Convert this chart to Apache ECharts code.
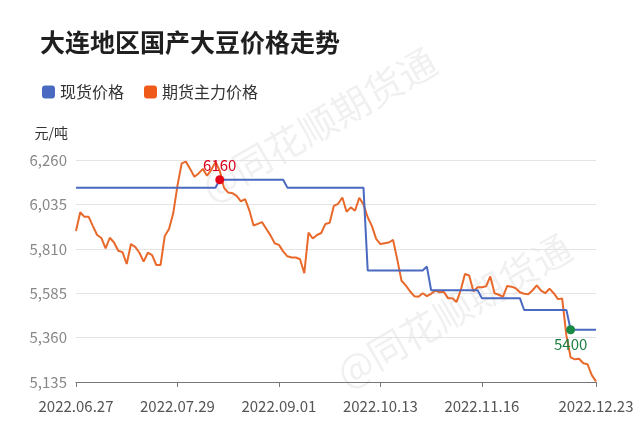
<!DOCTYPE html>
<html>
<head>
<meta charset="utf-8">
<script src="https://cdn.jsdelivr.net/npm/echarts@6/dist/echarts.min.js"></script>
<style>
html,body{margin:0;padding:0;background:#fff;}
#chart{width:640px;height:435px;}
</style>
</head>
<body>
<div id="chart"></div>
<script>
var dates = [
'2022.06.27','2022.06.28','2022.06.29','2022.06.30',
'2022.07.01','2022.07.04','2022.07.05','2022.07.06','2022.07.07','2022.07.08',
'2022.07.11','2022.07.12','2022.07.13','2022.07.14','2022.07.15',
'2022.07.18','2022.07.19','2022.07.20','2022.07.21','2022.07.22',
'2022.07.25','2022.07.26','2022.07.27','2022.07.28','2022.07.29',
'2022.08.01','2022.08.02','2022.08.03','2022.08.04','2022.08.05',
'2022.08.08','2022.08.09','2022.08.10','2022.08.11','2022.08.12',
'2022.08.15','2022.08.16','2022.08.17','2022.08.18','2022.08.19',
'2022.08.22','2022.08.23','2022.08.24','2022.08.25','2022.08.26',
'2022.08.29','2022.08.30','2022.08.31','2022.09.01','2022.09.02',
'2022.09.05','2022.09.06','2022.09.07','2022.09.08','2022.09.09',
'2022.09.13','2022.09.14','2022.09.15','2022.09.16',
'2022.09.19','2022.09.20','2022.09.21','2022.09.22','2022.09.23',
'2022.09.26','2022.09.27','2022.09.28','2022.09.29','2022.09.30',
'2022.10.10','2022.10.11','2022.10.12','2022.10.13','2022.10.14',
'2022.10.17','2022.10.18','2022.10.19','2022.10.20','2022.10.21',
'2022.10.24','2022.10.25','2022.10.26','2022.10.27','2022.10.28',
'2022.10.31','2022.11.01','2022.11.02','2022.11.03','2022.11.04',
'2022.11.07','2022.11.08','2022.11.09','2022.11.10','2022.11.11',
'2022.11.14','2022.11.15','2022.11.16','2022.11.17','2022.11.18',
'2022.11.21','2022.11.22','2022.11.23','2022.11.24','2022.11.25',
'2022.11.28','2022.11.29','2022.11.30',
'2022.12.01','2022.12.02',
'2022.12.05','2022.12.06','2022.12.07','2022.12.08','2022.12.09',
'2022.12.12','2022.12.13','2022.12.14','2022.12.15','2022.12.16',
'2022.12.19','2022.12.20','2022.12.21','2022.12.22','2022.12.23'
];

// 现货价格 (spot)
var spot = [
6120,6120,6120,6120,6120,6120,6120,6120,6120,6120,
6120,6120,6120,6120,6120,6120,6120,6120,6120,6120,
6120,6120,6120,6120,6120,6120,6120,6120,6120,6120,
6120,6120,6120,6120,6160,6160,6160,6160,6160,6160,
6160,6160,6160,6160,6160,6160,6160,6160,6160,6160,
6120,6120,6120,6120,6120,6120,6120,6120,6120,6120,
6120,6120,6120,6120,6120,6120,6120,6120,6120,5700,
5700,5700,5700,5700,5700,5700,5700,5700,5700,5700,
5700,5700,5700,5720,5600,5600,5600,5600,5600,5600,
5600,5600,5600,5600,5600,5600,5560,5560,5560,5560,
5560,5560,5560,5560,5560,5560,5500,5500,5500,5500,
5500,5500,5500,5500,5500,5500,5500,5400,5400,5400,
5400,5400,5400,5400
];

// 期货主力价格 (futures main contract)
var futures = [
5900,5995,5972,5972,5925,5880,5865,5812,5866,5842,
5800,5793,5733,5834,5820,5790,5745,5790,5778,5728,
5728,5875,5910,5990,6130,6243,6252,6215,6175,6192,
6215,6180,6210,6250,6205,6120,6095,6092,6078,6050,
6062,6005,5928,5936,5945,5912,5878,5838,5830,5797,
5772,5766,5766,5757,5686,5892,5862,5880,5890,5936,
5942,6028,6038,6070,5998,6020,6003,6069,6035,5970,
5925,5860,5834,5838,5842,5855,5755,5648,5625,5595,
5570,5567,5585,5570,5582,5598,5590,5592,5560,5560,
5540,5600,5682,5675,5595,5615,5615,5620,5670,5585,
5577,5567,5622,5618,5610,5590,5582,5580,5600,5625,
5598,5585,5608,5585,5555,5558,5370,5260,5250,5253,
5230,5225,5170,5138
];

var yTicks = [5135, 5360, 5585, 5810, 6035, 6260];
var xLabelIdx = [0, 24, 48, 72, 96, 123];
var mark1Idx = 34;   // 6160
var mark2Idx = 117;  // 5400

var chart = echarts.init(document.getElementById('chart'), null, {renderer: 'canvas'});
var FONT = '"Noto Sans CJK SC", "Noto Sans", sans-serif';

var option = {
  backgroundColor: '#ffffff',
  animation: false,
  textStyle: {fontFamily: FONT},
  title: {
    text: '大连地区国产大豆价格走势',
    left: 35,
    top: 25,
    textStyle: {fontSize: 25, fontWeight: 'bold', color: '#1f1f1f', fontFamily: FONT}
  },
  legend: {
    left: 37,
    top: 79,
    icon: 'roundRect',
    itemWidth: 13,
    itemHeight: 13,
    itemGap: 20,
    textStyle: {fontSize: 16, color: '#333', fontFamily: FONT},
    data: ['现货价格', '期货主力价格']
  },
  graphic: [
    {type: 'text', left: 330, top: 228, rotation: Math.PI / 6, silent: true,
     style: {text: '@同花顺期货通', fontSize: 38, fill: 'rgba(0,0,0,0.06)', fontFamily: FONT}},
    {type: 'text', left: 195, top: 42, rotation: Math.PI / 6, silent: true,
     style: {text: '@同花顺期货通', fontSize: 38, fill: 'rgba(0,0,0,0.06)', fontFamily: FONT}}
  ],
  grid: {left: 76, right: 44, top: 160, bottom: 53, containLabel: false},
  xAxis: {
    type: 'category',
    data: dates,
    boundaryGap: false,
    axisLine: {lineStyle: {color: '#777', width: 1}},
    axisTick: {
      show: true, length: 5, lineStyle: {color: '#777'},
      interval: function (i) { return xLabelIdx.indexOf(i) >= 0; }
    },
    axisLabel: {
      interval: function (i) { return xLabelIdx.indexOf(i) >= 0; },
      color: '#555', fontSize: 15, margin: 17, fontFamily: FONT
    },
    splitLine: {show: false}
  },
  yAxis: {
    type: 'value',
    min: yTicks[0],
    max: yTicks[yTicks.length - 1],
    interval: 225,
    name: '元/吨',
    nameLocation: 'end',
    nameGap: 20,
    nameTextStyle: {color: '#333', fontSize: 14, align: 'right', padding: [0, 8, 0, 0], fontFamily: FONT},
    axisLine: {show: false},
    axisTick: {show: false},
    axisLabel: {
      color: '#888', fontSize: 15, margin: 9, fontFamily: FONT,
      formatter: function (v) { return v.toString().replace(/\B(?=(\d{3})+(?!\d))/g, ','); }
    },
    splitLine: {lineStyle: {color: '#e4e4e4', width: 1}}
  },
  series: [
    {
      name: '现货价格',
      type: 'line',
      data: spot,
      symbol: 'none',
      color: '#4a69c0',
      lineStyle: {width: 2, color: '#4a69c0'},
      z: 3,
      markPoint: {
        symbol: 'circle',
        symbolSize: 9,
        data: [
          {coord: [mark1Idx, spot[mark1Idx]], value: spot[mark1Idx],
           itemStyle: {color: '#e3071a'},
           label: {show: true, position: 'top', distance: 2, color: '#d9001b', fontSize: 15, fontFamily: FONT}},
          {coord: [mark2Idx, spot[mark2Idx]], value: spot[mark2Idx],
           itemStyle: {color: '#198a45'},
           label: {show: true, position: 'bottom', distance: 3, color: '#1a7f42', fontSize: 15, fontFamily: FONT}}
        ]
      }
    },
    {
      name: '期货主力价格',
      type: 'line',
      data: futures,
      symbol: 'none',
      color: '#f05a18',
      lineStyle: {width: 2, color: '#e8692a'},
      z: 2
    }
  ]
};
chart.setOption(option);
</script>
</body>
</html>
